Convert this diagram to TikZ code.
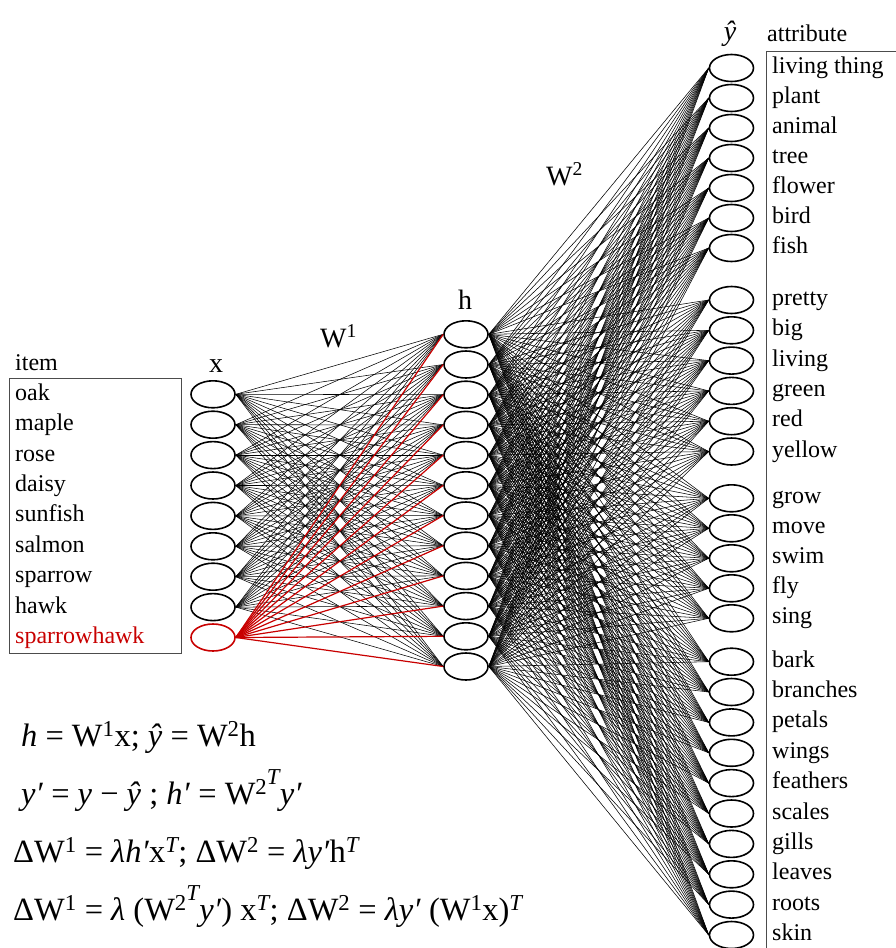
\documentclass[tikz,border=0pt]{standalone}
\usepackage{fontspec}
\setmainfont{Liberation Serif}
\usetikzlibrary{shapes.geometric}
\definecolor{hotred}{RGB}{200,0,0}
\newcommand\up[1]{\textsuperscript{#1}}
\newcommand\wtwot{W\up{2\raisebox{0.45em}{\itshape T}}}
\tikzset{
  unit/.style={ellipse, draw, line width=1.6pt, minimum width=44pt, minimum height=27pt, inner sep=0pt, fill=white},
  lab/.style={anchor=base west, inner sep=0pt, font=\fontsize{24}{28}\selectfont},
  layer/.style={anchor=base, inner sep=0pt, font=\fontsize{28}{32}\selectfont},
  eqn/.style={anchor=base west, inner sep=0pt, font=\fontsize{32.5}{38}\selectfont},
  wire/.style={line width=0.55pt},
  hot/.style={draw=hotred, line width=1.2pt},
  boxline/.style={draw=black!70, line width=0.9pt}
}
\begin{document}
\begin{tikzpicture}[x=1pt,y=-1pt]
    \useasboundingbox (0,0) rectangle (896,948);

    % Input layer
    \foreach \lab [count=\i] in {oak,maple,rose,daisy,sunfish,salmon,sparrow,hawk} {
        \node[unit] (x\i) at (213,{394.3+30.4*(\i-1)}) {};
        \node[lab] (item\i) at (15,{400.3+30.4*(\i-1)}) {\lab};
    }
    \node[unit, draw=hotred] (x9) at (213,637.5) {};
    \node[lab, text=hotred] (item9) at (15,643.5) {sparrowhawk};
    \draw[boxline] (9,378) rectangle (181,653);
    \node[lab] (itemhead) at (15,370) {item};
    \node[layer] (xlab) at (216,372) {x};

    % Hidden layer
    \foreach \i in {1,...,12}
        \node[unit] (h\i) at (466,{334.3+30.2*(\i-1)}) {};
    \node[layer] (hlab) at (465,309) {h};

    % Output layer
    \foreach \yy/\lab [count=\i] in {68/living thing, 98/plant, 128/animal, 158/tree, 188/flower, 218/bird, 248/fish,
            300/pretty, 330.3/big, 360.6/living, 390.9/green, 421.2/red, 451.5/yellow,
            498.3/grow, 528.3/move, 558.3/swim, 588.3/fly, 618.3/sing,
            661.7/bark, 692/branches, 722.4/petals, 752.8/wings, 783.1/feathers, 813.5/scales,
            843.9/gills, 874.3/leaves, 904.6/roots, 935/skin} {
        \node[unit] (y\i) at (731.5,\yy) {};
        \node[lab] (attr\i) at (772,{\yy+5.5}) {\lab};
    }
    \draw[boxline] (896,51.5) -- (766,51.5) -- (766,948);
    \node[lab] (attrhead) at (767,41.7) {attribute};
    \node[layer] (yhatlab) at (730,40) {\itshape ŷ};

    % Weights
    \foreach \i in {1,...,8}
        \foreach \j in {1,...,12}
            \draw[wire] (x\i.east) -- (h\j.west);
    \foreach \j in {1,...,12}
        \draw[hot] (x9.east) -- (h\j.west);
    \foreach \i in {1,...,12}
        \foreach \j in {1,...,28}
            \draw[wire] (h\i.east) -- (y\j.west);
    \node[layer, anchor=base west] (w1lab) at (320,347) {W\up{1}};
    \node[layer, anchor=base west] (w2lab) at (546,185) {W\up{2}};

    % Learning rules
    \node[eqn] (eq1) at (21,746) {\textit{h} = W\up{1}x; \textit{ŷ} = W\up{2}h};
    \node[eqn] (eq2) at (21,804) {\textit{y′} = \textit{y} − \textit{ŷ} ; \textit{h′} = \wtwot\textit{y′}};
    \node[eqn] (eq3) at (13,862) {ΔW\up{1} = \textit{λh′}x\up{\itshape T}; ΔW\up{2} = \textit{λy′}h\up{\itshape T}};
    \node[eqn] (eq4) at (13,920) {ΔW\up{1} = \textit{λ} (\wtwot\textit{y′}) x\up{\itshape T}; ΔW\up{2} = \textit{λy′} (W\up{1}x)\up{\itshape T}};
\end{tikzpicture}
\end{document}
